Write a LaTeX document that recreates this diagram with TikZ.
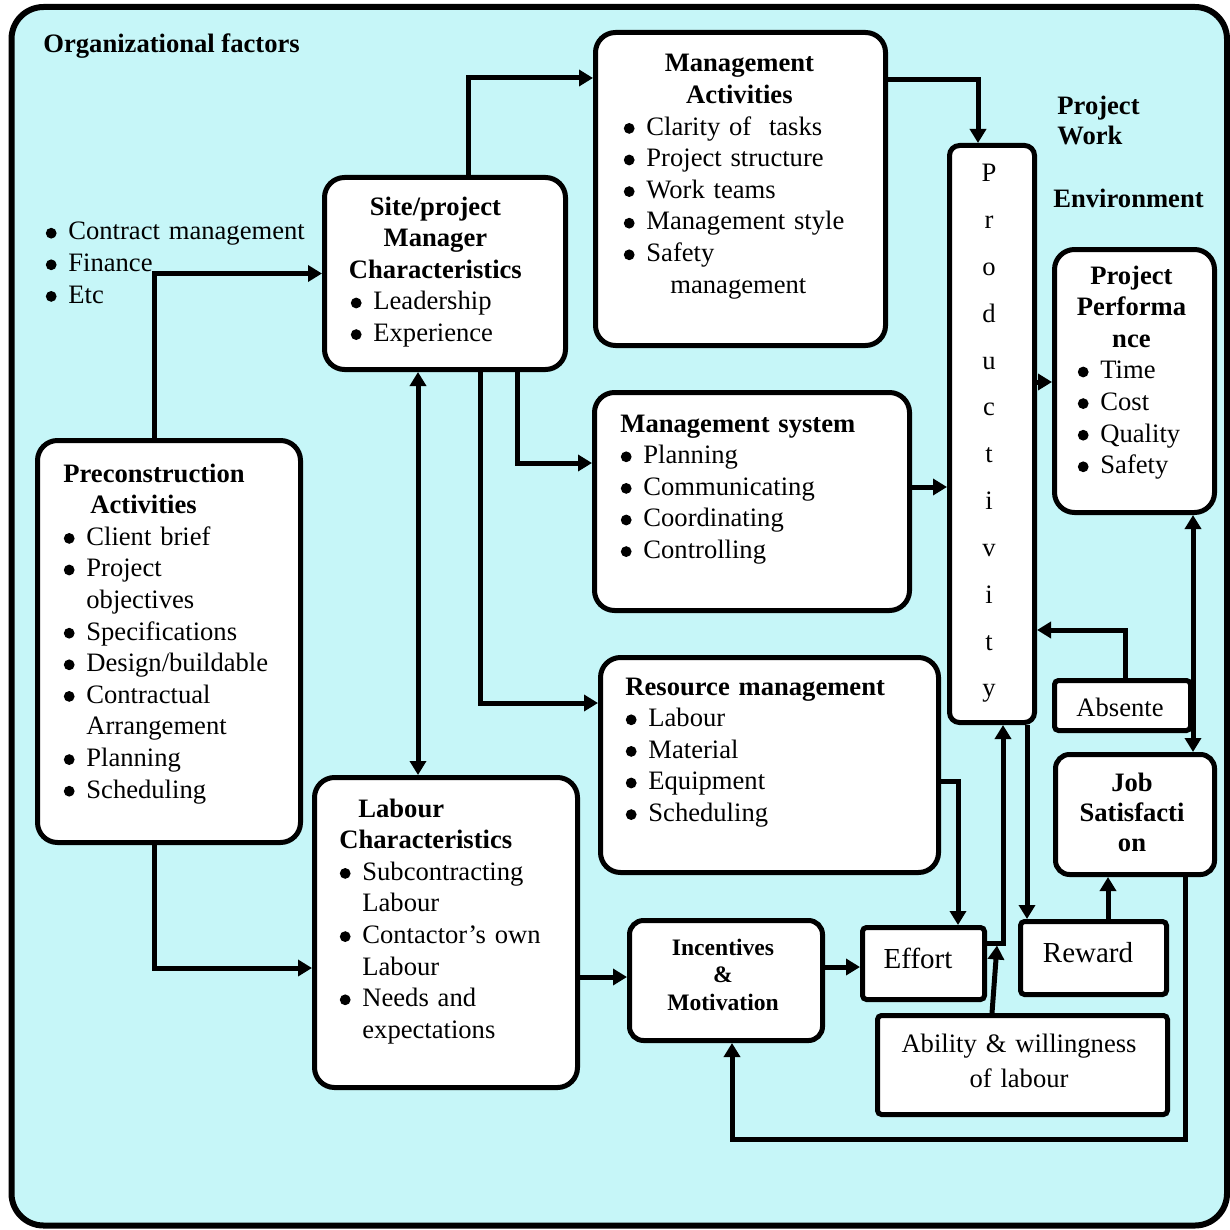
\documentclass[tikz,border=0pt]{standalone}
\usepackage{fontspec}
\setmainfont{Liberation Serif}
\usetikzlibrary{arrows.meta,calc}
\definecolor{bgcyan}{RGB}{198,246,248}
% bullet list helpers
\newcommand{\bdot}{\tikz[baseline=-3.4pt]\fill (0,0) circle[radius=2.7pt];}
\newcommand{\bitem}[1]{\makebox[11.5pt][l]{\hspace*{0.2pt}\bdot}#1}
\newcommand{\bcont}[1]{\hspace*{11.5pt}#1}
\newcommand{\ctitle}[1]{\makebox[\linewidth]{\bfseries #1}}

\begin{document}
\begin{tikzpicture}[x=0.5pt,y=-0.5pt,
  sz/.style 2 args={minimum width={#1*0.5pt},minimum height={#2*0.5pt}},
  rbox/.style={draw,line width=2.5pt,fill=white,rounded corners=10pt,inner sep=0pt,anchor=north west},
  sbox/.style={rbox,rounded corners=2pt},
  arr/.style={line width=2.5pt,-{Triangle[length=7pt,width=8pt]}},
  darr/.style={line width=2.5pt,{Triangle[length=7pt,width=8pt]}-{Triangle[length=7pt,width=8pt]}},
  body/.style={inner sep=0pt,anchor=base west,align=left,font=\fontsize{13.3}{15.8}\selectfont},
  lbl/.style={inner sep=0pt,anchor=base west,font=\fontsize{13.3}{15.8}\selectfont\bfseries},
]
\useasboundingbox (0,0) rectangle (1230,1230);
\fill[white] (0,0) rectangle (1230,1230);

% outer frame: project work environment
\node[draw,line width=3pt,fill=bgcyan,rounded corners=16pt,inner sep=0pt,anchor=north west,
      sz={1215.5}{1218.5}] (frame) at (8.5,4) {};

% boxes
\node[rbox,sz={263}{402}] (pre)  at (35,438) {};
\node[rbox,sz={241}{192}] (site) at (322,175) {};
\node[rbox,sz={290}{313}] (mact) at (593,30) {};
\node[rbox,rounded corners=5pt,sz={85}{577}] (prod) at (947,143) {};
\node[rbox,sz={160}{263}] (perf) at (1052,247) {};
\node[rbox,sz={315}{218}] (msys) at (592,390) {};
\node[rbox,sz={338}{215}] (res)  at (598,655) {};
\node[sbox,sz={136}{50}]  (abs)  at (1052,678) {};
\node[rbox,rounded corners=7pt,sz={159}{120}] (job) at (1053,752) {};
\node[rbox,sz={263}{310}] (lab)  at (312,775) {};
\node[rbox,rounded corners=7pt,sz={193}{120}] (inc) at (627,918) {};
\node[sbox,sz={122}{72}]  (eff)  at (860,925) {};
\node[sbox,sz={146}{73}]  (rew)  at (1018,919) {};
\node[sbox,sz={290}{99}]  (abl)  at (875,1013) {};

% free labels
\node[lbl] (org) at (43,53) {Organizational factors};
\node[body,text width=150pt] (org-t) at (45,240)
  {\bitem{Contract management}\\ \bitem{Finance}\\ \bitem{Etc}};
\node[body,font=\fontsize{13.3}{15}\selectfont\bfseries,text width=60pt] (pwe) at (1057,115)
  {Project\\ Work};
\node[lbl] (env) at (1053,207) {Environment};

% box contents
\node[body,text width=115pt] (pre-t) at (63,482)
  {\textbf{Preconstruction}\\ \hspace*{13.5pt}\textbf{Activities}\\
   \bitem{Client brief}\\ \bitem{Project}\\ \bcont{objectives}\\
   \bitem{Specifications}\\ \bitem{Design/buildable}\\ \bitem{Contractual}\\
   \bcont{Arrangement}\\ \bitem{Planning}\\ \bitem{Scheduling}};
\node[body,text width=85pt] (site-t) at (350,215)
  {\ctitle{Site/project}\\ \ctitle{Manager}\\ \ctitle{Characteristics}\\
   \bitem{Leadership}\\ \bitem{Experience}};
\node[body,text width=116pt] (mact-t) at (623,72)
  {\ctitle{Management}\\ \ctitle{Activities}\\ \bitem{Clarity of\ \ tasks}\\
   \bitem{Project structure}\\ \bitem{Work teams}\\ \bitem{Management style}\\
   \bitem{Safety}\\ \hspace*{23.5pt}management};
\node[body,text width=140pt] (msys-t) at (620,432)
  {\textbf{Management system}\\ \bitem{Planning}\\ \bitem{Communicating}\\
   \bitem{Coordinating}\\ \bitem{Controlling}};
\node[body,text width=150pt] (res-t) at (625,695)
  {\textbf{Resource management}\\ \bitem{Labour}\\ \bitem{Material}\\
   \bitem{Equipment}\\ \bitem{Scheduling}};
\node[body,text width=54pt] (perf-t) at (1077,284)
  {\ctitle{Project}\\ \ctitle{Performa}\\ \ctitle{nce}\\
   \bitem{Time}\\ \bitem{Cost}\\ \bitem{Quality}\\ \bitem{Safety}};
\node[body,text width=115pt] (lab-t) at (339,817)
  {\hspace*{9.5pt}\textbf{Labour}\\ \textbf{Characteristics}\\
   \bitem{Subcontracting}\\ \bcont{Labour}\\ \bitem{Contactor’s own}\\
   \bcont{Labour}\\ \bitem{Needs and}\\ \bcont{expectations}};
\node[body,anchor=base,align=center,text width=20pt,font=\fontsize{13.3}{23.4}\selectfont] (prod-t) at (989,182)
  {P\\ r\\ o\\ d\\ u\\ c\\ t\\ i\\ v\\ i\\ t\\ y};
\node[body,anchor=base,align=center,text width=70pt,font=\fontsize{13.3}{15}\selectfont\bfseries] (job-t) at (1132,791)
  {Job\\ Satisfacti\\ on};
\node[body,anchor=base,align=center,text width=80pt,font=\fontsize{11.8}{13.8}\selectfont\bfseries] (inc-t) at (723,955)
  {Incentives\\ \&\\ Motivation};
\node[inner sep=0pt,anchor=base,font=\fontsize{14.5}{16}\selectfont] (eff-t) at (918,968) {Effort};
\node[inner sep=0pt,anchor=base,font=\fontsize{14.5}{16}\selectfont] (rew-t) at (1088,962) {Reward};
\node[body,anchor=base,align=center,text width=140pt] (abl-t) at (1019,1052)
  {Ability \& willingness\\[1.7pt] of labour};
\begin{scope}
  \clip ($(abs.north west)$) rectangle ($(abs.south east)+(0,-13)$);
  \node[inner sep=0pt,anchor=base,font=\fontsize{13.3}{16}\selectfont] (abs-t) at (1120,716) {Absente};
\end{scope}

% connectors
\draw[arr] ($(pre.north west)+(119,0)$) |- (site.west);
\draw[arr] ($(pre.south west)+(119,0)$) |- ($(lab.north west)+(0,193)$);
\draw[arr] ($(site.north west)+(146,0)$) |- ($(mact.north west)+(0,48)$);
\draw[darr] ($(site.south west)+(96,0)$) -- ($(lab.north west)+(106,0)$);
\draw[arr] ($(site.south west)+(158,0)$) |- ($(res.north west)+(0,48)$);
\draw[arr] ($(site.south west)+(195,0)$) |- ($(msys.north west)+(0,73)$);
\draw[arr] ($(mact.north east)+(0,50)$) -| ($(prod.north west)+(31,0)$);
\draw[arr] ($(msys.north east)+(0,97)$) -- ($(prod.north west)+(0,344)$);
\draw[arr] ($(prod.north east)+(0,239)$) -- ($(perf.north west)+(0,135)$);
\draw[arr] ($(abs.north west)+(73,0)$) |- ($(prod.north east)+(0,487)$);
\draw[darr] ($(perf.south west)+(141,0)$) -- ($(job.north west)+(140,0)$);
\draw[arr] ($(res.north east)+(0,126)$) -| ($(eff.north west)+(98,0)$);
\draw[arr] ($(eff.north east)+(0,18)$) -| ($(prod.south west)+(56,0)$);
\draw[arr] ($(prod.south west)+(80,0)$) -- ($(rew.north west)+(9,0)$);
\draw[arr] ($(abl.north west)+(117,0)$) -- ($(eff.north east)+(10,20.5)$);
\draw[arr] ($(rew.north west)+(90,0)$) -- ($(job.south west)+(55,0)$);
\draw[arr] ($(job.south west)+(132,0)$) -- ($(job.south west)+(132,262)$) -| ($(inc.south west)+(105,0)$);
\draw[arr] ($(lab.north east)+(0,202)$) -- ($(inc.north west)+(0,59)$);
\draw[arr] ($(inc.north east)+(0,49)$) -- ($(eff.north west)+(0,42)$);
\end{tikzpicture}
\end{document}
